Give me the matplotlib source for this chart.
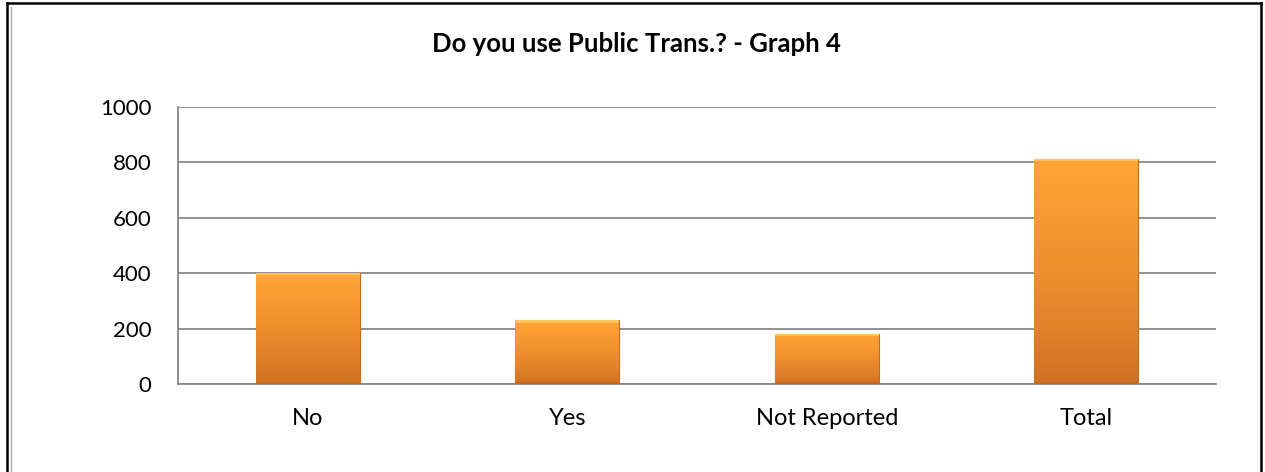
import matplotlib.pyplot as plt
import numpy as np
from matplotlib.lines import Line2D
from matplotlib.colors import LinearSegmentedColormap

categories = ['No', 'Yes', 'Not Reported', 'Total']
counts = [401, 231, 181, 813]
yticks = [0, 200, 400, 600, 800, 1000]

plt.rcParams['font.family'] = ['Lato', 'DejaVu Sans']

fig = plt.figure(figsize=(12.65, 4.72), dpi=100)
ax = fig.add_axes([178 / 1265, 1 - 384 / 472, (1216 - 178) / 1265, (384 - 107) / 472])

x = np.arange(len(categories))
bars = ax.bar(x, counts, width=0.4, color='#F39231', edgecolor='#C8691F',
              linewidth=0.8, zorder=3)

# vertical gradient inside each bar, like the Excel bevel fill
grad = LinearSegmentedColormap.from_list(
    'bar', ['#FFA536', '#F99A30', '#EF8E2C', '#E2822A', '#CF7022'])
g = np.linspace(0, 1, 256).reshape(-1, 1)
for b in bars:
    x0, w, h = b.get_x(), b.get_width(), b.get_height()
    im = ax.imshow(g, cmap=grad, aspect='auto', extent=[x0, x0 + w, 0, h],
                   origin='upper', zorder=3.5, interpolation='bilinear')
    im.set_clip_path(b)

# light bevel strip along the top of each bar
ax.bar(x, [9] * len(x), bottom=np.array(counts) - 9, width=0.4,
       color='#FFC35A', linewidth=0, zorder=4)
# darker rim at the bottom
ax.bar(x, [6] * len(x), bottom=0, width=0.4, color='#B9621C', alpha=0.6,
       linewidth=0, zorder=4)

ax.set_xlim(-0.5, len(categories) - 0.5)
ax.set_ylim(0, 1000)
ax.set_yticks(yticks)
ax.set_xticks(x)
ax.set_xticklabels(categories)
ax.tick_params(axis='both', length=0, labelsize=16, colors='black')
ax.tick_params(axis='y', pad=19)
ax.tick_params(axis='x', pad=17, labelsize=17)
ax.yaxis.grid(True, color='#888888', linewidth=1.3, zorder=1)
ax.set_axisbelow(True)
for s in ['top', 'right']:
    ax.spines[s].set_visible(False)
for s in ['left', 'bottom']:
    ax.spines[s].set_color('#888888')
    ax.spines[s].set_linewidth(1.3)

fig.text(0.503, 1 - 44 / 472, 'Do you use Public Trans.? - Graph 4',
         ha='center', va='center', fontsize=18.5, fontweight='bold')

# outer frame of the chart
W, H = 1265, 472
for xs, ys in [([7 / W, 7 / W], [0, 1 - 3 / H]),
               ([7 / W, 1261 / W], [1 - 3 / H, 1 - 3 / H]),
               ([1261 / W, 1261 / W], [0, 1 - 3 / H])]:
    fig.add_artist(Line2D(xs, ys, color='black', linewidth=1.8))
fig.add_artist(Line2D([11 / W, 11 / W], [0, 1 - 7 / H], color='#AAAAAA', linewidth=1))

fig.savefig('out.png', dpi=100)
